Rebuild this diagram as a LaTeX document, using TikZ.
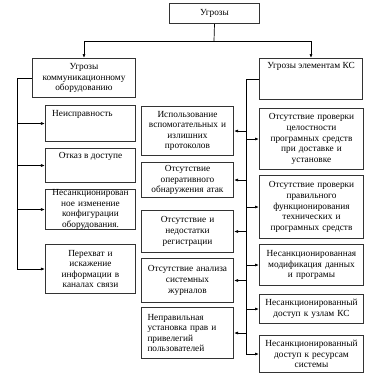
\documentclass[tikz,border=0pt]{standalone}
\usepackage{fontspec}
\setmainfont{Liberation Serif}
\usetikzlibrary{arrows.meta}
\begin{document}
\begin{tikzpicture}[x=1bp,y=-1bp,
  box/.style={draw=black!80, line width=1bp, anchor=north west, inner xsep=3bp, inner ysep=0pt,
    align=center, font=\fontsize{9.3bp}{10.6bp}\selectfont},
  lbl/.style={inner sep=0pt, font=\fontsize{9.3bp}{10.6bp}\selectfont},
  wire/.style={draw=black, line width=0.7bp},
  conn/.style={wire, -{Latex[length=4bp,width=3bp]}}]
\useasboundingbox (0,0) rectangle (380,380);
% top levels
\node[box, minimum width=90bp, minimum height=20bp] (top) at (169,3) {Угрозы};
\node[box, text width=97bp, minimum height=39bp] (LT) at (32,58) {Угрозы\\коммуникационному\\оборудованию};
\node[box, minimum width=103bp, minimum height=41bp] (RT) at (259,58) {};
\node[lbl, anchor=north] (RTt) at ([yshift=-4bp]RT.north) {Угрозы элементам КС};
% left column
\node[box, minimum width=90bp, minimum height=36bp] (L1) at (45,105) {};
\node[lbl, anchor=north west] (L1t) at ([shift={(7bp,-5bp)}]L1.north west) {Неисправность};
\node[box, minimum width=90bp, minimum height=34bp] (L2) at (45,148) {};
\node[lbl, anchor=north] (L2t) at ([yshift=-4bp]L2.north) {Отказ в доступе};
\node[box, text width=84bp, minimum height=40bp] (L3) at (45,189) {Несанкционирован\\ное изменение\\конфигурации\\оборудования.};
\node[box, text width=84bp, minimum height=49bp] (L4) at (45,244) {Перехват и\\искажение\\информации в\\каналах связи};
% middle column
\node[box, text width=86bp, minimum height=49bp] (A) at (141,106) {Использование\\вспомогательных и\\излишних\\протоколов};
\node[box, text width=86bp, minimum height=35bp] (B) at (141,162) {Отсутствие\\оперативного\\обнаружения атак};
\node[box, text width=86bp, minimum height=42bp] (C) at (141,210) {Отсутствие и\\недостатки\\регистрации};
\node[box, text width=86bp, minimum height=44bp] (D) at (141,258) {Отсутствие анализа\\системных\\журналов};
\node[box, text width=80bp, inner xsep=6bp, align=left, minimum height=51bp] (E) at (141,307) {Неправильная\\установка прав и\\привелегий\\пользователей};
% right column
\node[box, text width=98bp, minimum height=61bp] (R1) at (259,108) {Отсутствие проверки\\целостности\\програмных средств\\при доставке и\\установке};
\node[box, text width=98bp, minimum height=63bp] (R2) at (259,175) {Отсутствие проверки\\правильного\\функционирования\\технических и\\програмных средств};
\node[box, text width=98bp, minimum height=41bp] (R3) at (259,244) {Несанкционированная\\модификация данных\\и програмы};
\node[box, text width=98bp, minimum height=29bp] (R4) at (259,294) {Несанкционированный\\доступ к узлам КС};
\node[box, text width=98bp, minimum height=37bp] (R5) at (259,335) {Несанкционированный\\доступ к ресурсам\\системы};
% top connectors
\coordinate (j) at (214,41);
\draw[wire] (top.south) -- (j);
\draw[conn] (j) -| (LT.north);
\draw[conn] (j) -| (RT.north);
% left spine
\coordinate (ls) at (17,79);
\draw[wire] (LT.west) -- (LT.west -| ls) -- (ls |- L4.west);
\foreach \n in {L1,L2,L3,L4} \draw[conn] (ls |- \n.west) -- (\n.west);
% right spine
\coordinate (rs) at (246,80);
\draw[wire] (RT.west) -- (RT.west -| rs) -- (rs |- R5.west);
\foreach \n in {A,B,C,D,E} \draw[conn] (rs |- \n.east) -- (\n.east);
\foreach \n in {R1,R2,R3,R4,R5} \draw[conn] (rs |- \n.west) -- (\n.west);
\end{tikzpicture}
\end{document}
